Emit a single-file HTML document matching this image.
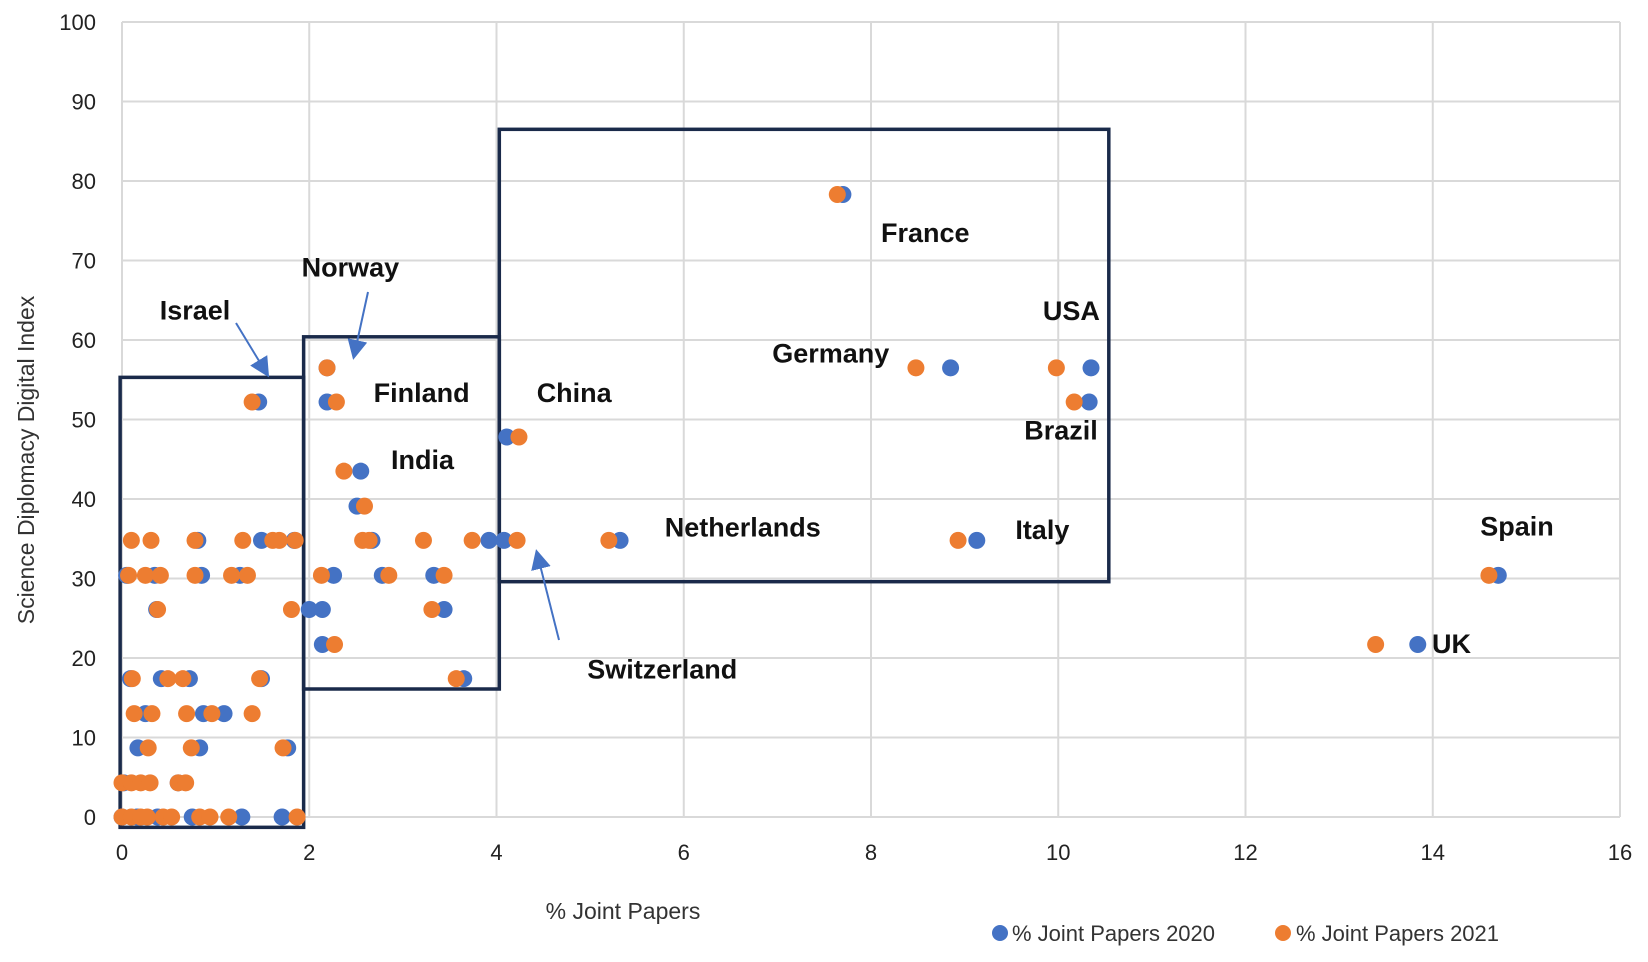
<!DOCTYPE html>
<html><head><meta charset="utf-8"><style>
html,body{margin:0;padding:0;background:#fff;}
svg{display:block;font-family:"Liberation Sans",Arial,sans-serif;}
</style></head><body>
<svg id="chart" width="1648" height="962" viewBox="0 0 1648 962">
<defs><marker id="ah" markerWidth="10" markerHeight="10" refX="8" refY="5" orient="auto"><path d="M0,0 L10,5 L0,10 z" fill="#4472C4"/></marker></defs>
<g id="grid"></g>
<g id="boxes"></g>
<g id="ticks"></g>
<g id="dots"></g>
<g id="labels" font-weight="bold" font-size="27" fill="#111"></g>
<text x="623" y="919" font-size="23" text-anchor="middle" fill="#333">% Joint Papers</text>
<text x="0" y="0" font-size="23" text-anchor="middle" fill="#333" transform="translate(34,460) rotate(-90)">Science Diplomacy  Digital Index</text>
<g>
<g><circle cx="1000" cy="933" r="8" fill="#4472C4"/><text x="1012" y="941" font-size="22" fill="#333">% Joint Papers 2020</text></g>
<g><circle cx="1283" cy="933" r="8" fill="#ED7D31"/><text x="1296" y="941" font-size="22" fill="#333">% Joint Papers 2021</text></g>
</g>
<g stroke="#4472C4" stroke-width="2">
<line x1="236" y1="323" x2="267" y2="374" marker-end="url(#ah)"/>
<line x1="368" y1="292" x2="354" y2="356" marker-end="url(#ah)"/>
<line x1="559" y1="640" x2="537" y2="553" marker-end="url(#ah)"/>
</g>
</svg>
<script>
const xTicks=[0,2,4,6,8,10,12,14,16];
const yTicks=[0,10,20,30,40,50,60,70,80,90,100];
const x2020=[0,0.16,0.38,0.75,1.28,1.71,0.02,0.6,0.05,0.35,0.85,1.26,2.26,2.78,3.33,0.81,1.49,1.84,2.67,3.92,4.08,0.37,2.0,3.44,2.14,2.14,0.09,0.42,0.72,1.49,3.65,0.25,0.87,1.09,0.17,0.83,1.77,2.19,2.19,2.55,2.51,1.46,4.11,5.32,9.13,7.7,8.85,10.35,10.33,14.7,13.84];
const y2020=[0,0,0,0,0,0,4.3,4.3,30.4,30.4,30.4,30.4,30.4,30.4,30.4,34.8,34.8,34.8,34.8,34.8,34.8,26.1,26.1,26.1,26.1,21.7,17.4,17.4,17.4,17.4,17.4,13,13,13,8.7,8.7,8.7,56.5,52.2,43.5,39.1,52.2,47.8,34.8,34.8,78.3,56.5,56.5,52.2,30.4,21.7];
const x2021=[0,0.1,0.2,0.27,0.44,0.53,0.83,0.94,1.14,1.87,0,0.1,0.2,0.3,0.6,0.68,0.07,0.25,0.41,0.78,1.17,1.34,2.13,2.85,3.44,0.1,0.31,0.78,1.29,1.61,1.68,1.85,2.57,2.64,3.22,3.74,4.22,0.38,1.81,3.31,2.27,0.11,0.49,0.65,1.47,3.57,0.13,0.32,0.69,0.96,1.39,0.28,0.74,1.72,2.19,2.29,2.37,2.59,1.39,4.24,5.2,8.93,7.64,8.48,9.98,10.17,14.6,13.39];
const y2021=[0,0,0,0,0,0,0,0,0,0,4.3,4.3,4.3,4.3,4.3,4.3,30.4,30.4,30.4,30.4,30.4,30.4,30.4,30.4,30.4,34.8,34.8,34.8,34.8,34.8,34.8,34.8,34.8,34.8,34.8,34.8,34.8,26.1,26.1,26.1,21.7,17.4,17.4,17.4,17.4,17.4,13,13,13,13,13,8.7,8.7,8.7,56.5,52.2,43.5,39.1,52.2,47.8,34.8,34.8,78.3,56.5,56.5,52.2,30.4,21.7];
const boxX0=[-0.02,1.94,4.03], boxX1=[1.94,4.03,10.54], boxY0=[-1.3,16.1,29.6], boxY1=[55.3,60.4,86.5];
const labelText=["Israel","Norway","Finland","India","China","France","Germany","USA","Brazil","Netherlands","Italy","Switzerland","Spain","UK"];
const labelX=[0.78,2.44,3.2,3.21,4.83,8.58,7.57,10.14,10.03,6.63,9.83,5.77,14.9,14.2];
const labelY=[62.6,68,52.2,43.8,52.2,72.3,57.2,62.5,47.5,35.3,35,17.4,35.4,20.6];
const X=v=>122+v*(1620-122)/16, Y=v=>817-v*(817-22)/100;
const NS="http://www.w3.org/2000/svg";
function mk(t,a,p){const e=document.createElementNS(NS,t);for(const k in a)e.setAttribute(k,a[k]);p.appendChild(e);return e;}
const grid=document.getElementById('grid'),ticks=document.getElementById('ticks');
xTicks.forEach(t=>{const l=mk('line',{x1:X(t),x2:X(t),y1:Y(0),y2:Y(100),stroke:'#d9d9d9','stroke-width':2},grid);


const tx=mk('text',{x:X(t),y:860,'font-size':22,'text-anchor':'middle',fill:'#222'},ticks);tx.textContent=t;

});
yTicks.forEach(t=>{const l=mk('line',{x1:X(0),x2:X(16),y1:Y(t),y2:Y(t),stroke:'#d9d9d9','stroke-width':2},grid);


const tx=mk('text',{x:96,y:Y(t)+8,'font-size':22,'text-anchor':'end',fill:'#222'},ticks);tx.textContent=t;

});
const boxes=document.getElementById('boxes');
boxX0.forEach((v,i)=>{const r=mk('rect',{x:X(v),y:Y(boxY1[i]),width:X(boxX1[i])-X(v),height:Y(boxY0[i])-Y(boxY1[i]),fill:'none',stroke:'#1a2a4a','stroke-width':3.5},boxes);

});
const dots=document.getElementById('dots');
x2020.forEach((v,i)=>{const c=mk('circle',{cx:X(v),cy:Y(y2020[i]),r:8.5,fill:'#4472C4'},dots);

});
x2021.forEach((v,i)=>{const c=mk('circle',{cx:X(v),cy:Y(y2021[i]),r:8.5,fill:'#ED7D31'},dots);

});
const labels=document.getElementById('labels');
labelText.forEach((s,i)=>{const t=mk('text',{x:X(labelX[i]),y:Y(labelY[i]),'text-anchor':'middle'},labels);t.textContent=s;

});
</script>
</body></html>
